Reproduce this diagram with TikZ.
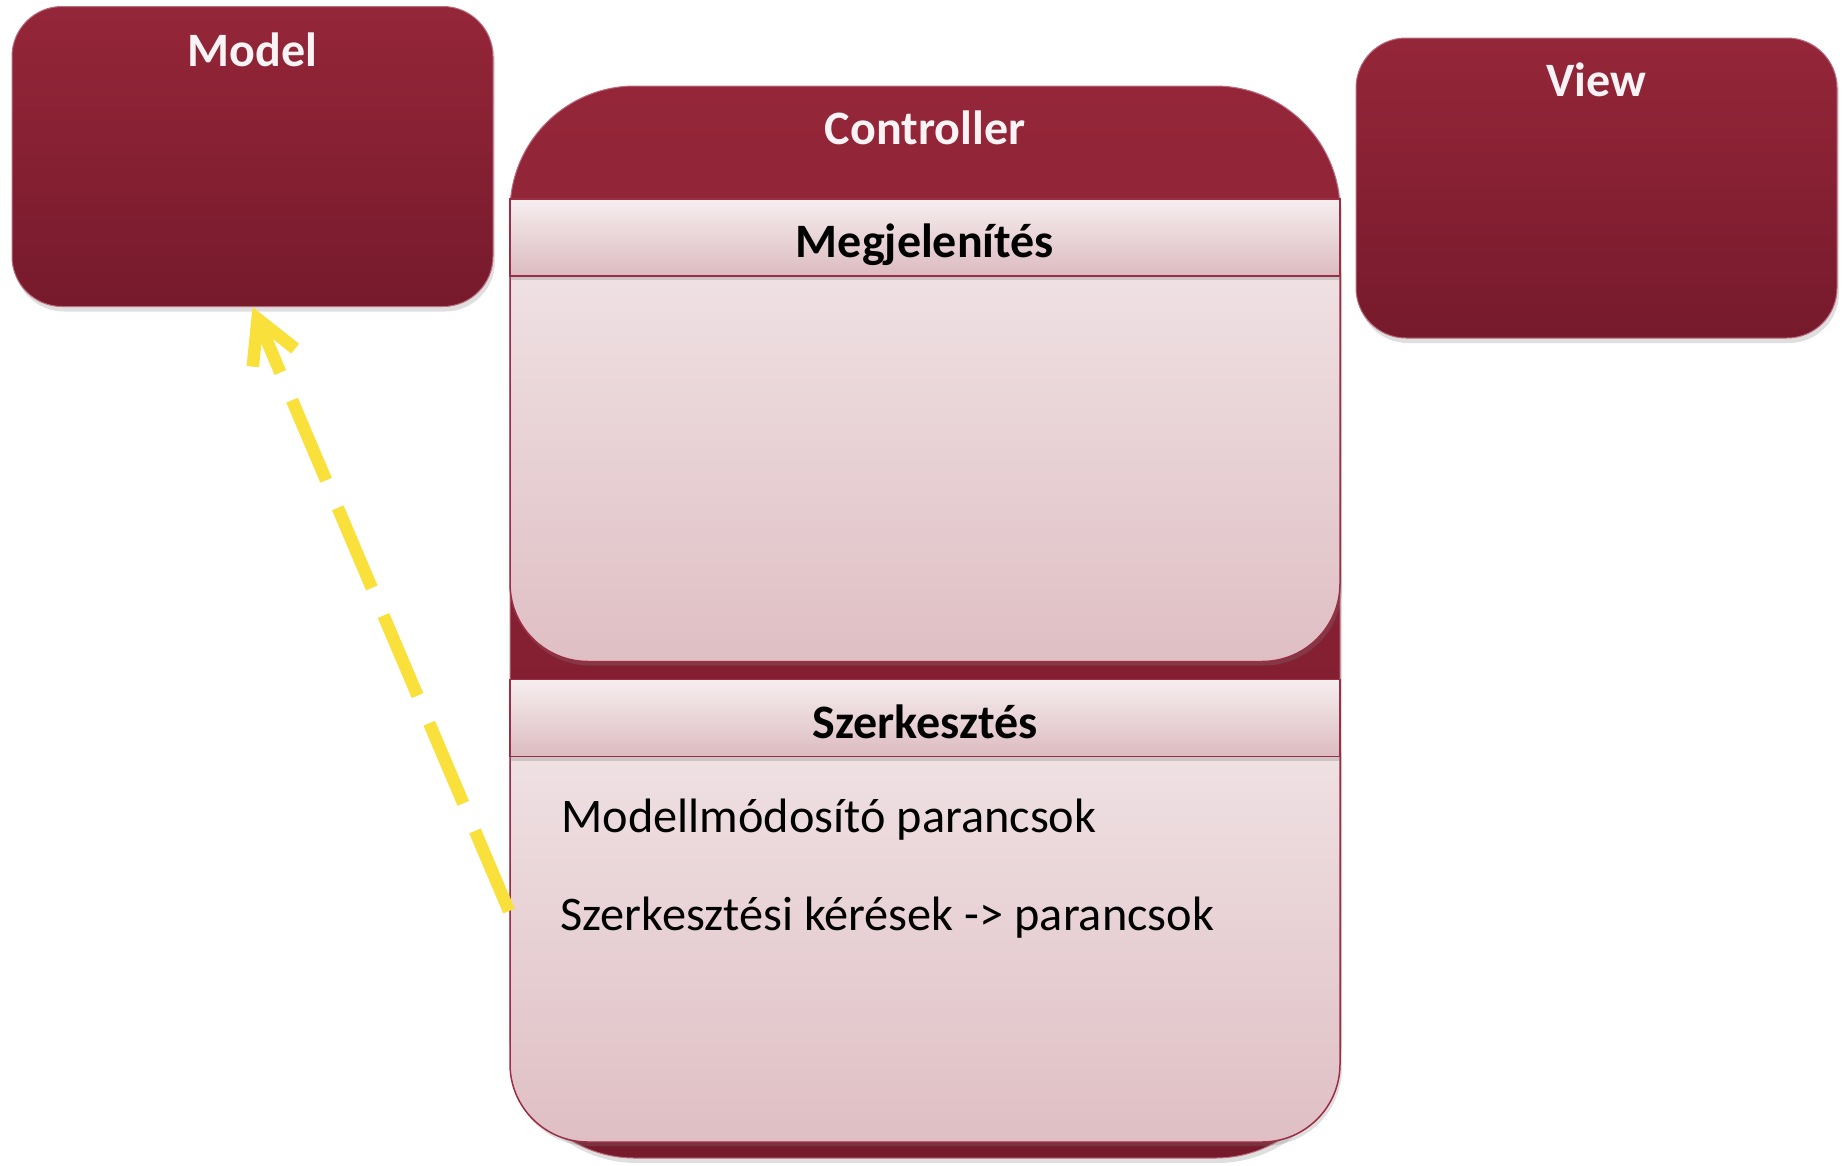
\documentclass[tikz,border=0pt]{standalone}
\usepackage{fontspec}
\setmainfont{Carlito}
\usepackage{tikz}
\usetikzlibrary{arrows.meta, positioning, calc, shadows}
\definecolor{mvctop}{HTML}{952639}
\definecolor{mvcbot}{HTML}{761a2c}
\definecolor{edgecol}{HTML}{9b2d45}
\definecolor{headtop}{HTML}{F6EEEF}
\definecolor{headbot}{HTML}{DCBBC0}
\definecolor{paneltop}{HTML}{F2E7E9}
\definecolor{panelbot}{HTML}{DFBFC4}
\definecolor{titlecol}{HTML}{F8F4F5}
\definecolor{linkcol}{HTML}{F9E03B}

\begin{document}
\begin{tikzpicture}[
  x=1pt, y=-1pt,
  box/.style={
    rectangle, rounded corners=50pt, draw=edgecol!70, line width=1pt,
    top color=mvctop, bottom color=mvcbot, inner sep=0pt,
    minimum width=481pt, minimum height=300pt,
    drop shadow={opacity=0.25, shadow xshift=2pt, shadow yshift=-5pt}
  },
  title/.style={font=\fontsize{48}{58}\selectfont\bfseries, text=titlecol, anchor=base},
  panel/.style={
    rectangle, rounded corners=78pt, draw=edgecol, line width=1.5pt,
    top color=paneltop, bottom color=panelbot, inner sep=0pt,
    minimum width=830pt, minimum height=462pt,
    drop shadow={opacity=0.25, shadow xshift=2pt, shadow yshift=-4pt}
  },
  header/.style={
    rectangle, draw=edgecol, line width=1.5pt,
    top color=headtop, bottom color=headbot, inner sep=0pt,
    minimum width=830pt, minimum height=77pt,
    text height=40pt, text depth=0pt,
    font=\fontsize{48}{58}\selectfont\bfseries,
    drop shadow={opacity=0.3, shadow xshift=0pt, shadow yshift=-4pt}
  },
  item/.style={font=\fontsize{48.3}{58}\selectfont, anchor=base west},
  link/.style={
    draw=linkcol, line width=12.5pt, dash pattern=on 87pt off 30pt,
    -{Straight Barb[length=42pt, width=46pt]}
  },
]
  \useasboundingbox (0,0) rectangle (1843,1165);

  % outer boxes
  \node[box] (model) at (252.5,156.5) {};
  \node[box] (view)  at (1596.5,188)  {};
  \node[box, rounded corners=125pt, minimum width=830pt, minimum height=1072pt] (ctrl) at (925,622) {};

  \node[title] (modeltitle) at ($(model.north)+(0,60)$) {Model};
  \node[title] (viewtitle)  at ($(view.north)+(0,59)$)  {View};
  \node[title] (ctrltitle)  at ($(ctrl.north)+(0,59)$)  {Controller};

  % Megjelenites
  \node[panel]  (showpanel) at (925,430.5) {};
  \node[header] (showhead)  at (925,237.5) {Megjelenítés};

  % Szerkesztes
  \node[panel]  (editpanel) at (925,911) {};
  \node[header] (edithead)  at (925,718) {Szerkesztés};

  \node[item] (cmds) at (558,832) {Modellmódosító parancsok};
  \node[item] (reqs) at (557,930) {Szerkesztési kérések -> parancsok};

  \coordinate (tail) at (509,911);
  \draw[link] (tail) -- (model.south);
\end{tikzpicture}
\end{document}
